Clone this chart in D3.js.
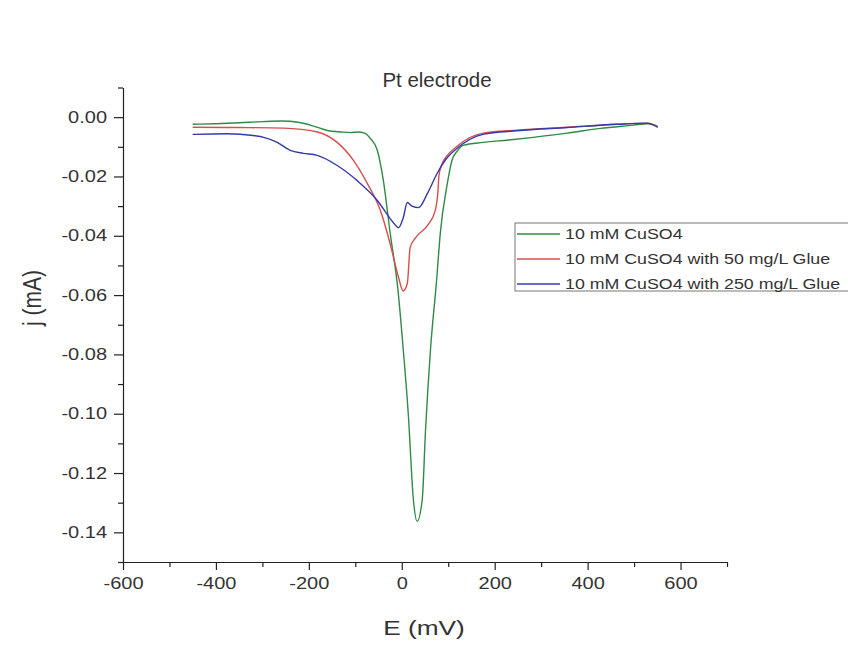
<html>
  <head>
    <meta charset="utf-8">
    <title>Pt electrode</title>
    <style>
      body {
          margin: 0;
          background: #fff;
      }
      svg {
          font-family: "Liberation Sans", Arial, sans-serif;
      }
      .axis path, .axis line {
          stroke: #222;
          stroke-width: 1.2;
      }
      .axis text {
          font-size: 16px;
          fill: #333;
      }
      .curve {
          fill: none;
          stroke-width: 1.4;
      }
    </style>
  </head>
  <body>
    <script src="https://cdn.jsdelivr.net/npm/d3@7"></script>
    <svg id="chart" width="848" height="657"></svg>
    <script type="text/javascript">
// values: potential E (mV), current density j (mA)
var greenE = [-450, -400, -350, -300, -260, -220, -190, -160, -130, -110, -95, -80, -68, -53, -40, -25, -8, 3, 14, 25, 33, 44, 51, 62, 75, 83, 98, 108, 119, 132, 175, 230, 283, 356, 427, 498, 530, 550];
var greenJ = [-0.0024, -0.0022, -0.0019, -0.0015, -0.0013, -0.0018, -0.0030, -0.0045, -0.0050, -0.0052, -0.0050, -0.0054, -0.0071, -0.011, -0.021, -0.039, -0.0586, -0.078, -0.100, -0.129, -0.1363, -0.129, -0.106, -0.078, -0.055, -0.039, -0.0224, -0.0146, -0.0115, -0.0095, -0.0085, -0.0077, -0.0068, -0.0054, -0.0038, -0.0027, -0.0022, -0.0030];

var redE = [-450, -350, -255, -182, -139, -104, -74, -46, -25, -7, 3, 12, 18, 29, 55, 72, 78, 80, 86, 95, 119, 175, 248, 356, 463, 528, 551];
var redJ = [-0.0034, -0.0035, -0.0037, -0.0050, -0.0085, -0.0146, -0.0224, -0.0315, -0.0427, -0.054, -0.0586, -0.056, -0.044, -0.0408, -0.0366, -0.0315, -0.0247, -0.0197, -0.016, -0.0135, -0.0098, -0.0054, -0.0044, -0.0034, -0.0024, -0.0020, -0.0034];

var blueE = [-450, -375, -320, -297, -268, -240, -212, -182, -139, -96, -53, -18, -7, 3, 12, 22, 36, 55, 76, 98, 119, 175, 248, 356, 463, 528, 551];
var blueJ = [-0.0058, -0.0056, -0.0062, -0.0068, -0.0085, -0.0112, -0.0122, -0.0129, -0.0163, -0.0214, -0.028, -0.0356, -0.0373, -0.034, -0.0288, -0.030, -0.0305, -0.0258, -0.019, -0.0136, -0.0105, -0.0058, -0.0046, -0.0035, -0.0024, -0.0020, -0.0034];

var seriesNames = ["10 mM CuSO4", "10 mM CuSO4 with 50 mg/L Glue", "10 mM CuSO4 with 250 mg/L Glue"];
var seriesColours = ["#2f8a45", "#d4504c", "#3838ad"];

var xMajor = [-600, -400, -200, 0, 200, 400, 600];
var xMinor = [-500, -300, -100, 100, 300, 500, 700];
var yMajor = [0, -0.02, -0.04, -0.06, -0.08, -0.10, -0.12, -0.14];
var yMinor = [0.01, -0.01, -0.03, -0.05, -0.07, -0.09, -0.11, -0.13, -0.15];

// the picture is a bit wider than it is tall, text included
var squash = 1.25;

function stretch(sel, k) {
  sel.each(function() {
    var t = d3.select(this);
    var x = +t.attr("x") || 0;
    t.attr("x", x / k).attr("transform", "scale(" + k + ",1)");
  });
}

var svg = d3.select("#chart");

var x = d3.scaleLinear().domain([-600, 700]).range([123, 727]);
var y = d3.scaleLinear().domain([-0.15, 0.01]).range([562, 87.5]);

var series = [
  { name: seriesNames[0], colour: seriesColours[0], E: greenE, j: greenJ },
  { name: seriesNames[1], colour: seriesColours[1], E: redE, j: redJ },
  { name: seriesNames[2], colour: seriesColours[2], E: blueE, j: blueJ }
];

// minor ticks first, so the major axis lines sit on top
svg.append("g")
    .attr("class", "axis")
    .attr("transform", "translate(0," + y(-0.15) + ")")
    .call(d3.axisBottom(x).tickValues(xMinor).tickSize(5).tickFormat(""))
    .select(".domain").remove();
svg.append("g")
    .attr("class", "axis")
    .attr("transform", "translate(" + x(-600) + ",0)")
    .call(d3.axisLeft(y).tickValues(yMinor).tickSize(5).tickFormat(""))
    .select(".domain").remove();

var xAxis = svg.append("g")
    .attr("class", "axis")
    .attr("transform", "translate(0," + y(-0.15) + ")")
    .call(d3.axisBottom(x).tickValues(xMajor).tickSize(8).tickSizeOuter(0).tickPadding(8)
          .tickFormat(d3.format("d")));
var yAxis = svg.append("g")
    .attr("class", "axis")
    .attr("transform", "translate(" + x(-600) + ",0)")
    .call(d3.axisLeft(y).tickValues(yMajor).tickSize(9).tickSizeOuter(0).tickPadding(7)
          .tickFormat(d3.format(".2f")));

// d3 uses a unicode minus, the original uses a plain hyphen
xAxis.selectAll("text").text(d => String(d).replace("\u2212", "-"));
yAxis.selectAll("text").text(d => d3.format(".2f")(d).replace("\u2212", "-"));
stretch(xAxis.selectAll("text"), squash);
stretch(yAxis.selectAll("text"), squash);

var line = d3.line()
    .x(d => x(d[0]))
    .y(d => y(d[1]))
    .curve(d3.curveMonotoneX);

svg.selectAll(".curve")
    .data(series)
  .enter().append("path")
    .attr("class", "curve")
    .attr("stroke", d => d.colour)
    .attr("d", d => line(d.E.map((e, i) => [e, d.j[i]])));

// title and axis labels
var title = svg.append("text")
    .attr("x", 437)
    .attr("y", 87)
    .attr("text-anchor", "middle")
    .style("font-size", "19.5px")
    .style("fill", "#333")
    .text("Pt electrode");
stretch(title, 1.05);

var xLabel = svg.append("text")
    .attr("x", 424)
    .attr("y", 635)
    .attr("text-anchor", "middle")
    .style("font-size", "21px")
    .style("fill", "#333")
    .text("E (mV)");
stretch(xLabel, squash);

svg.append("text")
    .attr("transform", "translate(32,298) rotate(-90) scale(1," + squash + ")")
    .attr("text-anchor", "middle")
    .attr("dy", "0.35em")
    .style("font-size", "21px")
    .style("fill", "#333")
    .text("j (mA)");

// legend, runs off the right edge like the original
var legend = svg.append("g").attr("transform", "translate(515,223)");
legend.append("rect")
    .attr("width", 360)
    .attr("height", 68)
    .attr("fill", "#fff")
    .attr("stroke", "#777")
    .attr("stroke-width", 1);

var rows = legend.selectAll(".row")
    .data(series)
  .enter().append("g")
    .attr("class", "row")
    .attr("transform", (d, i) => "translate(0," + (11 + i * 25) + ")");
rows.append("line")
    .attr("x1", 2).attr("x2", 45)
    .attr("stroke", d => d.colour)
    .attr("stroke-width", 1.4);
var labels = rows.append("text")
    .attr("x", 50)
    .attr("dy", "0.35em")
    .style("font-size", "14px")
    .style("fill", "#333")
    .text(d => d.name);
stretch(labels, 1.27);
    </script>
  </body>
</html>
